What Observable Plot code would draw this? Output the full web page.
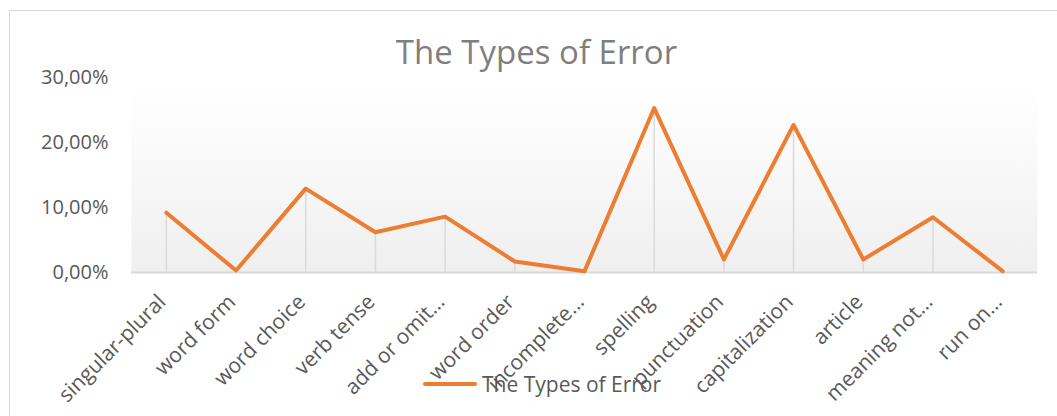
<!DOCTYPE html>
<html>
<head>
<meta charset="utf-8">
<script src="https://cdn.jsdelivr.net/npm/d3@7"></script>
<script src="https://cdn.jsdelivr.net/npm/@observablehq/plot@0.6"></script>
<style>
  html, body { margin: 0; padding: 0; background: #fff; }
  #wrap { position: relative; width: 1057px; height: 416px; overflow: hidden; font-family: "Open Sans", sans-serif; }
  #border { position: absolute; left: 9px; top: 10px; width: 1100px; height: 500px; border-left: 1.5px solid #d9d9d9; border-top: 1.5px solid #d9d9d9; box-sizing: border-box; }
  #title { position: absolute; left: 0; top: 30px; width: 1073px; text-align: center; font-size: 33px; color: #7f7f7f; line-height: 44px; }
  #legend { position: absolute; left: 423px; top: 369px; display: flex; align-items: center; font-size: 21px; color: #595959; line-height: 30px; }
  #legend .sw { width: 54px; height: 4px; background: #ED7D31; border-radius: 2px; margin-right: 5px; }
  #chart { position: absolute; left: 0; top: 0; }
</style>
</head>
<body>
<div id="wrap">
  <div id="border"></div>
  <div id="chart"></div>
  <div id="title"></div>
  <div id="legend"><div class="sw"></div><span id="legtext"></span></div>
</div>
<script>
const title = "The Types of Error";
const seriesName = "The Types of Error";
const categories = ["singular-plural", "word form", "word choice", "verb tense", "add or omit…", "word order", "incomplete…", "spelling", "punctuation", "capitalization", "article", "meaning not…", "run on…"];
const values = [0.092, 0.003, 0.129, 0.062, 0.086, 0.017, 0.002, 0.253, 0.020, 0.227, 0.020, 0.085, 0.002];
const yTicks = [0, 0.1, 0.2, 0.3];

const data = categories.map((c, i) => ({ cat: c, v: values[i] }));
const fmt = d => (d * 100).toFixed(2).replace(".", ",") + "%";

const gradientDefs = () => {
  const defs = d3.create("svg:defs");
  const g = defs.append("linearGradient").attr("id", "bg").attr("x1", 0).attr("x2", 0).attr("y1", 0).attr("y2", 1);
  g.append("stop").attr("offset", "0").attr("stop-color", "#ffffff");
  g.append("stop").attr("offset", "0.12").attr("stop-color", "#fefefe");
  g.append("stop").attr("offset", "1").attr("stop-color", "#efefef");
  return defs.node();
};

const chart = Plot.plot({
  width: 1057,
  height: 416,
  marginLeft: 131,
  marginRight: 20,
  marginTop: 77,
  marginBottom: 144,
  style: { fontFamily: "Open Sans, sans-serif", fontSize: "21px", color: "#595959", background: "transparent", overflow: "visible" },
  x: { domain: categories, type: "band", padding: 0, round: false, label: null },
  y: { domain: [0, 0.3], label: null },
  marks: [
    gradientDefs,
    Plot.frame({ fill: "url(#bg)", stroke: null }),
    Plot.axisY({ ticks: yTicks, tickFormat: fmt, tickSize: 0, tickPadding: 23, fontSize: 20, fill: "#595959" }),
    Plot.axisX({ tickSize: 0, tickRotate: -45, tickPadding: 26, fontSize: 21, fill: "#595959", dx: -4 }),
    Plot.ruleX(data, { x: "cat", y1: 0, y2: "v", stroke: "#d9d9d9", strokeWidth: 1.5 }),
    Plot.ruleY([0], { stroke: "#d9d9d9", strokeWidth: 2 }),
    Plot.line(data, { x: "cat", y: "v", stroke: "#ED7D31", strokeWidth: 4, strokeLinejoin: "round", strokeLinecap: "round" })
  ]
});
document.getElementById("chart").appendChild(chart);
document.getElementById("title").textContent = title;
document.getElementById("legtext").textContent = seriesName;
</script>
</body>
</html>
